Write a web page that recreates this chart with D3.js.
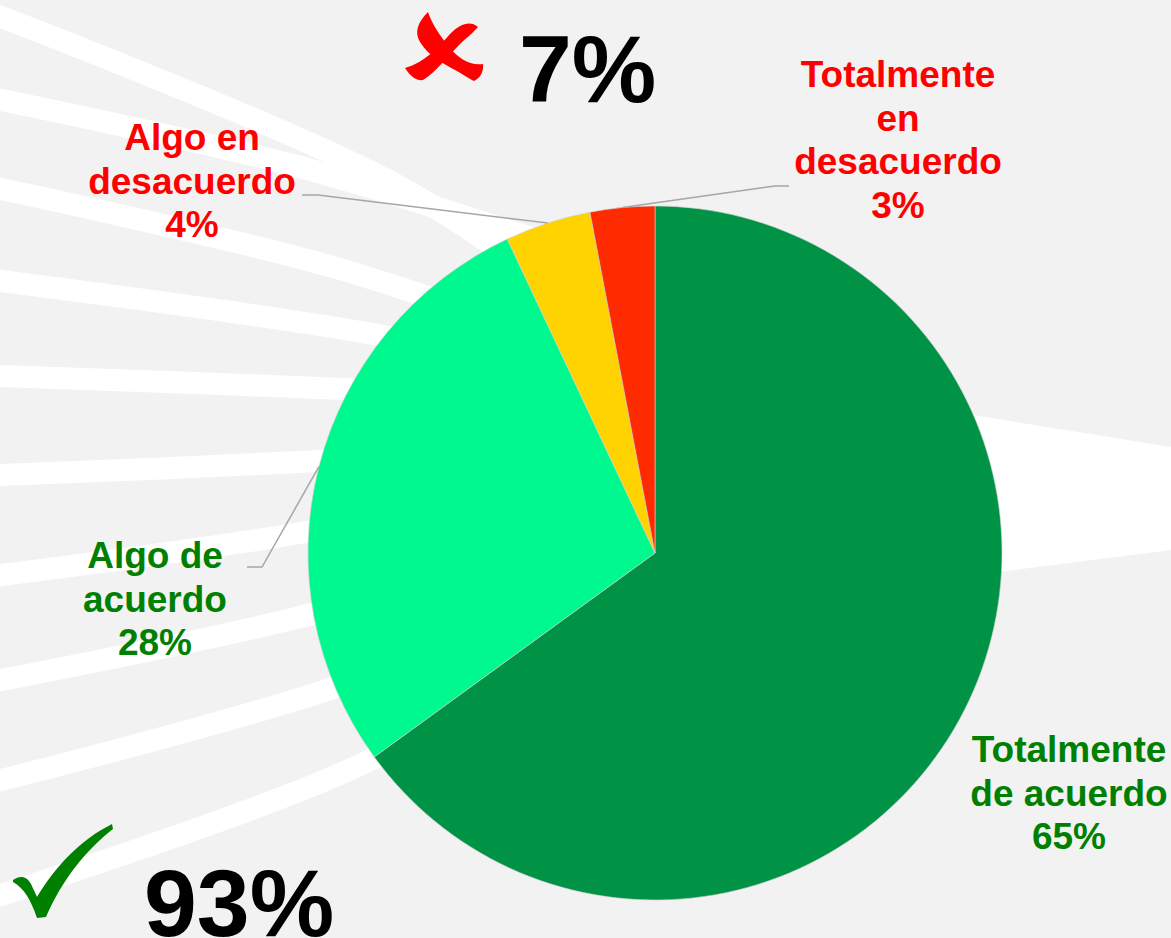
<!DOCTYPE html>
<html>
  <head>
  <meta charset="utf-8">
  <title>Acuerdo</title>
  </head>
  <body>
  <style>
    body, html {
      margin: 0;
      padding: 0;
      background: #f2f2f2;
    }
    svg text {
      font-family: "Liberation Sans", Arial, sans-serif;
      font-weight: bold;
    }
  </style>

  <svg id="svg" width="1171" height="938"></svg>

  <script src="https://cdn.jsdelivr.net/npm/d3@7"></script>
  <script>
    // data
    const categories = ['Totalmente de acuerdo', 'Algo de acuerdo', 'Algo en desacuerdo', 'Totalmente en desacuerdo']
    const values = [65, 28, 4, 3]
    const labelLines = [
      ['Totalmente', 'de acuerdo', '65%'],
      ['Algo de', 'acuerdo', '28%'],
      ['Algo en', 'desacuerdo', '4%'],
      ['Totalmente', 'en', 'desacuerdo', '3%']
    ]
    const totals = ['93%', '7%']

    const width = 1171
    const height = 938
    const cx = 655
    const cy = 553
    const radius = 347

    const svg = d3.select('#svg')

    // background swooshes (decoration only)
    const bg = svg.append('g')
    bg.append('rect').attr('width', width).attr('height', height).attr('fill', '#f2f2f2')
    const swooshes = [
      [17, 400, 187], [100, 300, 167], [189, 333, 267], [281, 367, 333], [376, 367, 390],
      [475, 300, 462], [575, 300, 533], [680, 300, 617], [780, 333, 688], [895, 333, 777]
    ]
    const curve = d3.line().curve(d3.curveCatmullRom)
    swooshes.forEach(([y0, xm, ym]) => {
      const yEnd = y0 + (ym - y0) * (600 / xm) * 1.2
      bg.append('path')
        .attr('d', curve([[-10, y0 - (ym - y0) * 10 / xm], [xm, ym], [600, yEnd]]))
        .attr('fill', 'none')
        .attr('stroke', '#ffffff')
        .attr('stroke-width', 22)
    })
    bg.append('path')
      .attr('d', 'M960,413 L1171,447 L1171,550 L960,577 Z')
      .attr('fill', '#ffffff')

    const colors = d3.scaleOrdinal()
      .domain(categories)
      .range(['#009245', '#00f98f', '#ffd300', '#ff2b00'])
    const textColors = d3.scaleOrdinal()
      .domain(categories)
      .range(['#008000', '#008000', '#ff0000', '#ff0000'])

    const pie = d3.pie().sort(null).value(d => d.value)
    const arcs = pie(categories.map((c, i) => ({ name: c, value: values[i], lines: labelLines[i] })))
    const arc = d3.arc().innerRadius(0).outerRadius(radius)

    const graph = svg.append('g').attr('transform', `translate(${cx}, ${cy})`)
    graph.selectAll('path')
      .data(arcs)
      .join('path')
      .attr('d', arc)
      .attr('fill', d => colors(d.data.name))
      .attr('stroke', '#d0d0d0')
      .attr('stroke-width', 0.6)

    // label positions (centre x, first baseline) and leader lines
    const labelPos = [
      { x: 1069, y: 762, leader: null },
      { x: 155, y: 568, leader: [[-393, 14], [-408, 14]] },
      { x: 192, y: 150, leader: [[-337, -358], [-353, -358]] },
      { x: 898, y: 87, leader: [[120, -367], [134, -367]] }
    ]
    const lineH = 43.5
    const outer = d3.arc().innerRadius(radius).outerRadius(radius)

    arcs.forEach((d, i) => {
      const p = labelPos[i]
      if (p.leader) {
        const start = outer.centroid(d)
        graph.append('path')
          .attr('d', d3.line()([start, p.leader[0], p.leader[1]]))
          .attr('fill', 'none')
          .attr('stroke', '#a6a6a6')
          .attr('stroke-width', 1.5)
      }
      const t = svg.append('text')
        .attr('text-anchor', 'middle')
        .attr('font-size', 37)
        .attr('fill', textColors(d.data.name))
      d.data.lines.forEach((line, j) => {
        t.append('tspan').attr('x', p.x).attr('y', p.y + j * lineH).text(line)
      })
    })

    // big totals with marks
    svg.append('text')
      .attr('x', 519).attr('y', 102)
      .attr('font-size', 95)
      .attr('fill', '#000')
      .text(totals[1])
    svg.append('text')
      .attr('x', 144).attr('y', 936)
      .attr('font-size', 95)
      .attr('fill', '#000')
      .text(totals[0])

    // red cross
    svg.append('path')
      .attr('d', 'M428,12 C418,22 414,32 420,42 C428,55 440,62 455,70 C464,75 470,79 474,81 C480,78 484,72 483,64 C470,66 458,58 450,48 C440,36 432,24 428,12 Z')
      .attr('fill', '#ff0000')
    svg.append('path')
      .attr('d', 'M478,27 C470,20 460,24 450,34 C438,48 425,62 405,68 C410,76 416,81 423,80 C436,72 448,56 460,44 C466,38 472,34 478,27 Z')
      .attr('fill', '#ff0000')

    // green tick
    svg.append('path')
      .attr('d', 'M13,880 C20,875 27,876 31,884 L37,897 C55,867 80,840 112,824 L113,829 C86,850 62,880 46,917 L37,918 C31,900 24,888 13,882 Z')
      .attr('fill', '#008000')
  </script>
  </body>
</html>
